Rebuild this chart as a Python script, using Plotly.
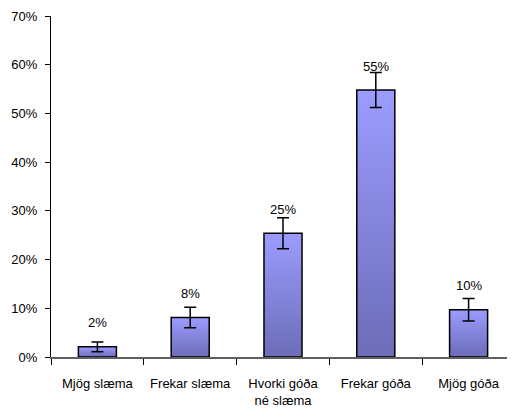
import plotly.graph_objects as go

categories = ["Mjög slæma", "Frekar slæma", "Hvorki góða<br>né slæma", "Frekar góða", "Mjög góða"]
values = [2.1, 8.1, 25.4, 54.8, 9.7]
errors = [1.0, 2.1, 3.2, 3.6, 2.3]
value_labels = ["2%", "8%", "25%", "55%", "10%"]
y_ticks = [0, 10, 20, 30, 40, 50, 60, 70]

BAR_HALF = 0.205
FONT = dict(family="Liberation Sans, Arial, sans-serif", size=13, color="#000000")

idx = list(range(len(categories)))
fig = go.Figure()

for i, v in zip(idx, values):
    fig.add_trace(go.Scatter(
        x=[i - BAR_HALF, i - BAR_HALF, i + BAR_HALF, i + BAR_HALF, i - BAR_HALF],
        y=[0, v, v, 0, 0],
        mode="lines",
        fill="toself",
        fillgradient=dict(type="vertical",
                          colorscale=[[0, "#6C6CB8"], [1, "#9C9CFF"]]),
        line=dict(color="#000000", width=1.5),
        hoverinfo="skip",
        showlegend=False,
    ))

fig.add_trace(go.Scatter(
    x=idx, y=values, mode="markers",
    marker=dict(size=1, opacity=0),
    error_y=dict(type="data", array=errors, visible=True,
                 color="#000000", thickness=1.5, width=6),
    showlegend=False,
))

for i, v, t in zip(idx, values, value_labels):
    fig.add_annotation(x=i, y=v, text=t, showarrow=False,
                       yanchor="middle", yshift=24, font=FONT)

fig.update_layout(
    width=507, height=411,
    margin=dict(l=43, r=0, t=8, b=62, autoexpand=False),
    paper_bgcolor="white", plot_bgcolor="white",
    font=FONT,
    showlegend=False,
)

fig.update_xaxes(
    range=[-0.5, len(categories) - 0.5],
    tickvals=idx, ticktext=categories, ticks="",
    ticklabelstandoff=14,
    minor=dict(tickvals=[i - 0.5 for i in idx] + [len(categories) - 0.5],
               ticks="outside", ticklen=6, tickcolor="#000000", tickwidth=1),
    showline=True, linecolor="#606060", linewidth=1.5,
    showgrid=False, zeroline=False, fixedrange=True, automargin=False,
)
fig.update_yaxes(
    range=[0, 70], tickvals=y_ticks, ticktext=[f"{t}%" for t in y_ticks],
    ticks="outside", ticklen=5, tickcolor="#000000",
    showline=True, linecolor="#000000", linewidth=1.2,
    showgrid=False, zeroline=False, ticklabelstandoff=5, automargin=False,
)

fig.write_html("out.html")
